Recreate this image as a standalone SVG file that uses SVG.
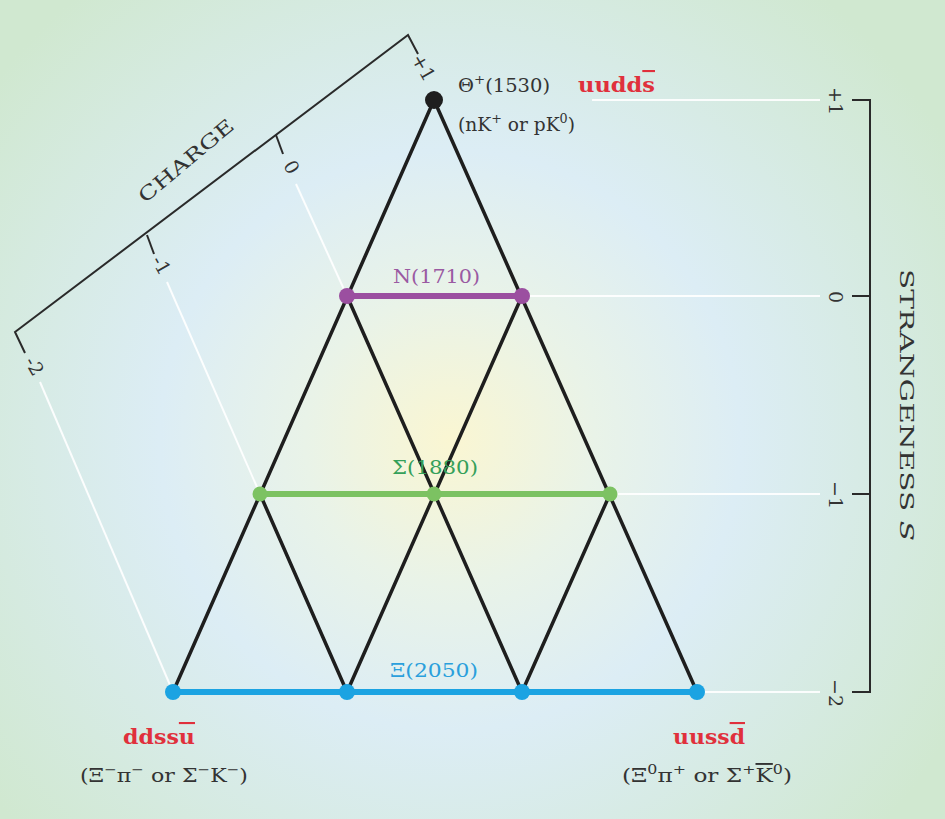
<svg xmlns="http://www.w3.org/2000/svg" width="945" height="819" viewBox="0 0 945 819">
<defs>
<radialGradient id="bg" cx="450" cy="440" r="580" gradientUnits="userSpaceOnUse">
<stop offset="0" stop-color="#faf6d2"/>
<stop offset="0.25" stop-color="#e9f3e8"/>
<stop offset="0.5" stop-color="#dcedf5"/>
<stop offset="1" stop-color="#d0e8d0"/>
</radialGradient>
<style>
.ax{stroke:#2a2a2a;stroke-width:2;fill:none}
.wl{stroke:#ffffff;stroke-width:2;fill:none;opacity:0.9}
.bl{stroke:#1e1e1e;stroke-width:3.5;fill:none;stroke-linecap:round}
.t{font-family:"DejaVu Serif","Liberation Serif",serif;font-size:19px;fill:#333}
.tk{font-family:"DejaVu Serif","Liberation Serif",serif;font-size:19px;fill:#333}
.q{font-family:"DejaVu Serif","Liberation Serif",serif;font-size:21px;font-weight:bold;fill:#e0303c}
.sup{font-size:13px}
</style>
</defs>
<rect width="945" height="819" fill="url(#bg)"/>

<g id="charge-axis">
<polyline class="ax" points="25,353 15,332 408,35 418,54"/>
<line class="ax" x1="276" y1="135" x2="283" y2="154"/>
<line class="ax" x1="147" y1="235" x2="154" y2="254"/>
<text class="tk" transform="translate(33,367) rotate(60)" text-anchor="middle" dominant-baseline="middle">-2</text>
<text class="tk" transform="translate(160,266) rotate(60)" text-anchor="middle" dominant-baseline="middle">-1</text>
<text class="tk" transform="translate(290,168) rotate(60)" text-anchor="middle" dominant-baseline="middle">0</text>
<text class="tk" transform="translate(422,68) rotate(60)" text-anchor="middle" dominant-baseline="middle">+1</text>
<text class="tk" transform="translate(187,162) rotate(-40)" text-anchor="middle" dominant-baseline="middle" textLength="118" lengthAdjust="spacingAndGlyphs">CHARGE</text>
</g>

<g id="strangeness-axis">
<polyline class="ax" points="852,100 870,100 870,692 852,692"/>
<line class="ax" x1="852" y1="296" x2="870" y2="296"/>
<line class="ax" x1="852" y1="494" x2="870" y2="494"/>
<text class="tk" transform="translate(834,101) rotate(90)" text-anchor="middle" dominant-baseline="middle">+1</text>
<text class="tk" transform="translate(834,297) rotate(90)" text-anchor="middle" dominant-baseline="middle">0</text>
<text class="tk" transform="translate(834,495) rotate(90)" text-anchor="middle" dominant-baseline="middle">−1</text>
<text class="tk" transform="translate(834,693) rotate(90)" text-anchor="middle" dominant-baseline="middle">−2</text>
<text class="tk" transform="translate(905,405) rotate(90)" text-anchor="middle" dominant-baseline="middle" textLength="272" lengthAdjust="spacingAndGlyphs">STRANGENESS <tspan font-style="italic">S</tspan></text>
</g>

<g id="connectors">
<line class="wl" x1="592" y1="100" x2="820" y2="100"/>
<line class="wl" x1="522" y1="296" x2="820" y2="296"/>
<line class="wl" x1="610" y1="494" x2="820" y2="494"/>
<line class="wl" x1="697" y1="692" x2="820" y2="692"/>
<line class="wl" x1="40" y1="382" x2="173" y2="692"/>
<line class="wl" x1="167" y1="282" x2="260" y2="494"/>
<line class="wl" x1="296" y1="184" x2="347" y2="296"/>
<line class="bl" x1="434" y1="100" x2="173" y2="692"/>
<line class="bl" x1="434" y1="100" x2="697" y2="692"/>
<line class="bl" x1="347" y1="296" x2="522" y2="692"/>
<line class="bl" x1="522" y1="296" x2="347" y2="692"/>
<line class="bl" x1="260" y1="494" x2="347" y2="692"/>
<line class="bl" x1="610" y1="494" x2="522" y2="692"/>
<line x1="347" y1="296" x2="522" y2="296" stroke="#9b4fa0" stroke-width="6"/>
<line x1="260" y1="494" x2="610" y2="494" stroke="#7cc262" stroke-width="6"/>
<line x1="173" y1="692" x2="697" y2="692" stroke="#1ba3e2" stroke-width="6"/>
</g>

<g id="theta">
<circle cx="434" cy="100" r="9" fill="#1e1e1e"/>
<text class="t" x="458" y="92" textLength="92" lengthAdjust="spacingAndGlyphs">Θ<tspan class="sup" dy="-8">+</tspan><tspan dy="8">(1530)</tspan></text>
<text class="t" x="458" y="131" textLength="117" lengthAdjust="spacingAndGlyphs">(nK<tspan class="sup" dy="-8">+</tspan><tspan dy="8"> or pK</tspan><tspan class="sup" dy="-8">0</tspan><tspan dy="8">)</tspan></text>
<text class="q" x="578" y="92" textLength="77" lengthAdjust="spacingAndGlyphs">uudd<tspan text-decoration="overline">s</tspan></text>
</g>

<g id="n1710">
<circle cx="347" cy="296" r="8" fill="#9b4fa0"/>
<circle cx="522" cy="296" r="8" fill="#9b4fa0"/>
<text class="t" x="393" y="283" textLength="87" lengthAdjust="spacingAndGlyphs" style="fill:#9a5aa2">N(1710)</text>
</g>

<g id="sigma1880">
<circle cx="260" cy="494" r="7.5" fill="#7cc262"/>
<circle cx="434" cy="494" r="7.5" fill="#7cc262"/>
<circle cx="610" cy="494" r="7.5" fill="#7cc262"/>
<text class="t" x="392" y="474" textLength="86" lengthAdjust="spacingAndGlyphs" style="fill:#35a05a">Σ(1880)</text>
</g>

<g id="xi2050">
<circle cx="173" cy="692" r="8" fill="#1ba3e2"/>
<circle cx="347" cy="692" r="8" fill="#1ba3e2"/>
<circle cx="522" cy="692" r="8" fill="#1ba3e2"/>
<circle cx="697" cy="692" r="8" fill="#1ba3e2"/>
<text class="t" x="390" y="677" textLength="88" lengthAdjust="spacingAndGlyphs" style="fill:#2a9fdc">Ξ(2050)</text>
</g>

<g id="ddssu">
<text class="q" x="123" y="744" textLength="72" lengthAdjust="spacingAndGlyphs">ddss<tspan text-decoration="overline">u</tspan></text>
<text class="t" x="80" y="782" textLength="168" lengthAdjust="spacingAndGlyphs">(Ξ<tspan class="sup" dy="-8">−</tspan><tspan dy="8">π</tspan><tspan class="sup" dy="-8">−</tspan><tspan dy="8"> or Σ</tspan><tspan class="sup" dy="-8">−</tspan><tspan dy="8">K</tspan><tspan class="sup" dy="-8">−</tspan><tspan dy="8">)</tspan></text>
</g>

<g id="uussd">
<text class="q" x="673" y="744" textLength="72" lengthAdjust="spacingAndGlyphs">uuss<tspan text-decoration="overline">d</tspan></text>
<text class="t" x="622" y="782" textLength="170" lengthAdjust="spacingAndGlyphs">(Ξ<tspan class="sup" dy="-8">0</tspan><tspan dy="8">π</tspan><tspan class="sup" dy="-8">+</tspan><tspan dy="8"> or Σ</tspan><tspan class="sup" dy="-8">+</tspan><tspan dy="8" text-decoration="overline">K</tspan><tspan class="sup" dy="-8">0</tspan><tspan dy="8">)</tspan></text>
</g>
</svg>
